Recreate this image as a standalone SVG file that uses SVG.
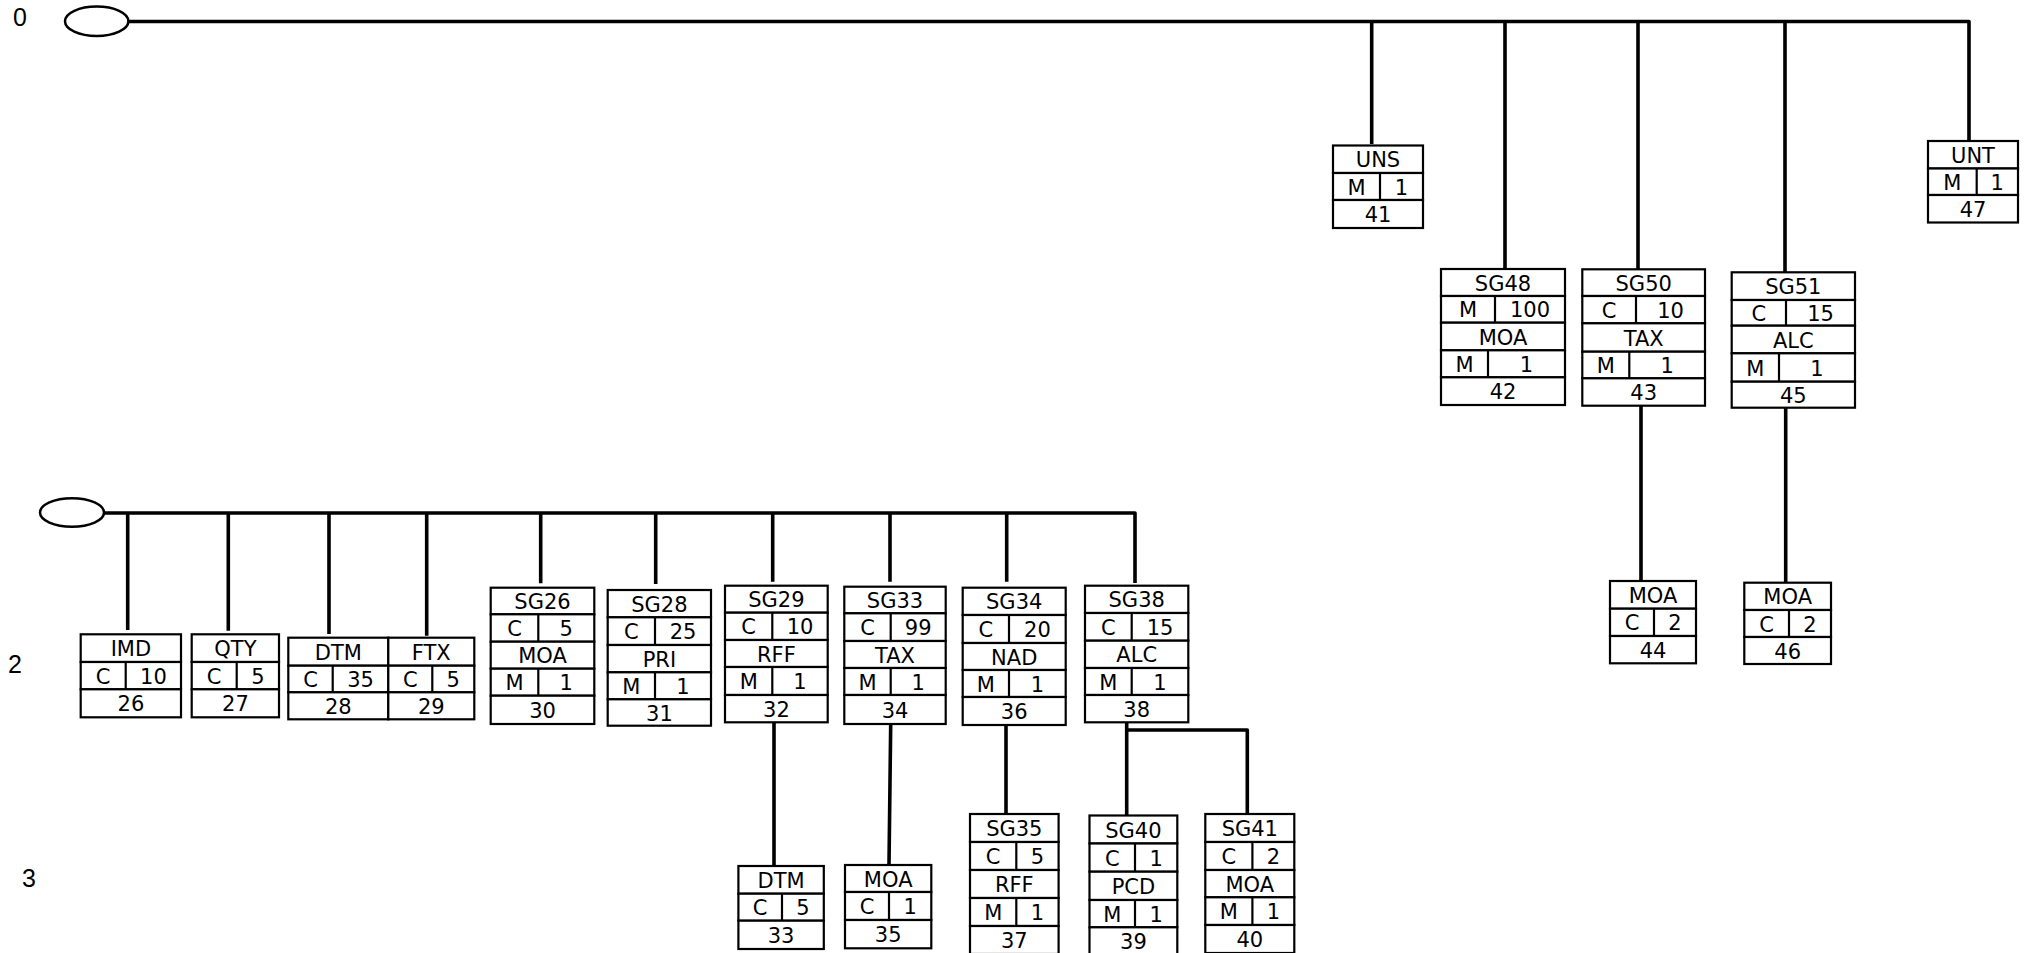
<svg xmlns="http://www.w3.org/2000/svg" width="2033" height="953" viewBox="0 0 2033 953">
<style>
.b{fill:#fff;stroke:#000;stroke-width:2.2}
.d{stroke:#000;stroke-width:2.2}
.c{fill:none;stroke:#000;stroke-width:3.6;stroke-linejoin:round}
.t{font-family:"DejaVu Sans",Verdana,sans-serif;font-size:21px;text-anchor:middle;fill:#000}
.l{font-family:"Liberation Sans",Arial,sans-serif;font-size:25px;text-anchor:middle;fill:#000}
.e{fill:#fff;stroke:#000;stroke-width:2.5}
</style>
<rect width="2033" height="953" fill="#fff"/>
<g id="levels">
<text class="l" x="20" y="26">0</text>
<text class="l" x="15" y="673">2</text>
<text class="l" x="29" y="887">3</text>
</g>
<g id="connectors">
<path class="c" d="M128 21.5H1969V141"/>
<path class="c" d="M1371.7 21.5V144M1505 21.5V269M1638 21.5V269.3M1785 21.5V272.3"/>
<path class="c" d="M1641 405.7V581M1785.7 407.7V582.7"/>
<path class="c" d="M104 513H1135V583"/>
<path class="c" d="M127.7 513V630M228.3 513V630.7M329 513V634M426.7 513V635.7M540.7 513V583.3M655.7 513V584M772.7 513V581.7M890 513V581.7M1006.7 513V581.7"/>
<path class="c" d="M774 722.3V866M890.7 724L889 865M1006 725V814"/>
<path class="c" d="M1126.7 722.3V815.5M1126.7 730H1247.3V814"/>
<ellipse class="e" cx="96.7" cy="21.3" rx="31.7" ry="14.7"/>
<ellipse class="e" cx="72" cy="512.5" rx="32" ry="14.2"/>
</g>
<g id="UNS">
<rect class="b" x="1333" y="145.5" width="90" height="27.5"/><rect class="b" x="1333" y="173" width="90" height="27"/><rect class="b" x="1333" y="200" width="90" height="28"/>
<line class="d" x1="1380" y1="173" x2="1380" y2="200"/>
<text class="t" x="1378" y="167.3">UNS</text><text class="t" x="1356.5" y="194.5">M</text><text class="t" x="1401.5" y="194.5">1</text><text class="t" x="1378" y="222">41</text>
</g>
<g id="UNT">
<rect class="b" x="1928" y="141" width="90" height="27.5"/><rect class="b" x="1928" y="168.5" width="90" height="26.5"/><rect class="b" x="1928" y="195" width="90" height="27.5"/>
<line class="d" x1="1976.7" y1="168.5" x2="1976.7" y2="195"/>
<text class="t" x="1973" y="162.8">UNT</text><text class="t" x="1952.3" y="189.8">M</text><text class="t" x="1997.3" y="189.8">1</text><text class="t" x="1973" y="216.8">47</text>
</g>
<g id="SG48">
<rect class="b" x="1441" y="269" width="124" height="27"/><rect class="b" x="1441" y="296" width="124" height="26.7"/><rect class="b" x="1441" y="322.7" width="124" height="27.6"/><rect class="b" x="1441" y="350.3" width="124" height="27"/><rect class="b" x="1441" y="377.3" width="124" height="27.7"/>
<line class="d" x1="1495" y1="296" x2="1495" y2="322.7"/><line class="d" x1="1488" y1="350.3" x2="1488" y2="377.3"/>
<text class="t" x="1503" y="290.5">SG48</text><text class="t" x="1468" y="317.4">M</text><text class="t" x="1530" y="317.4">100</text><text class="t" x="1503" y="344.5">MOA</text><text class="t" x="1464.5" y="371.8">M</text><text class="t" x="1526.5" y="371.8">1</text><text class="t" x="1503" y="399.2">42</text>
</g>
<g id="SG50">
<rect class="b" x="1582.3" y="269.3" width="122.7" height="26.7"/><rect class="b" x="1582.3" y="296" width="122.7" height="27.3"/><rect class="b" x="1582.3" y="323.3" width="122.7" height="28.4"/><rect class="b" x="1582.3" y="351.7" width="122.7" height="26.6"/><rect class="b" x="1582.3" y="378.3" width="122.7" height="27.4"/>
<line class="d" x1="1636" y1="296" x2="1636" y2="323.3"/><line class="d" x1="1629.3" y1="351.7" x2="1629.3" y2="378.3"/>
<text class="t" x="1643.7" y="290.7">SG50</text><text class="t" x="1609.2" y="317.7">C</text><text class="t" x="1670.5" y="317.7">10</text><text class="t" x="1643.7" y="345.5">TAX</text><text class="t" x="1605.8" y="373">M</text><text class="t" x="1667.2" y="373">1</text><text class="t" x="1643.7" y="400">43</text>
</g>
<g id="SG51">
<rect class="b" x="1731.7" y="272.3" width="123.3" height="27.7"/><rect class="b" x="1731.7" y="300" width="123.3" height="25.7"/><rect class="b" x="1731.7" y="325.7" width="123.3" height="27.6"/><rect class="b" x="1731.7" y="353.3" width="123.3" height="28.4"/><rect class="b" x="1731.7" y="381.7" width="123.3" height="26"/>
<line class="d" x1="1786" y1="300" x2="1786" y2="325.7"/><line class="d" x1="1779" y1="353.3" x2="1779" y2="381.7"/>
<text class="t" x="1793.3" y="294.2">SG51</text><text class="t" x="1758.9" y="320.9">C</text><text class="t" x="1820.5" y="320.9">15</text><text class="t" x="1793.3" y="347.5">ALC</text><text class="t" x="1755.4" y="375.5">M</text><text class="t" x="1817" y="375.5">1</text><text class="t" x="1793.3" y="402.7">45</text>
</g>
<g id="MOA44">
<rect class="b" x="1610" y="581" width="86" height="27.7"/><rect class="b" x="1610" y="608.7" width="86" height="27.3"/><rect class="b" x="1610" y="636" width="86" height="27.3"/>
<line class="d" x1="1654" y1="608.7" x2="1654" y2="636"/>
<text class="t" x="1653" y="602.9">MOA</text><text class="t" x="1632" y="630.4">C</text><text class="t" x="1675" y="630.4">2</text><text class="t" x="1653" y="657.7">44</text>
</g>
<g id="MOA46">
<rect class="b" x="1744.3" y="582.7" width="86.7" height="27.3"/><rect class="b" x="1744.3" y="610" width="86.7" height="27"/><rect class="b" x="1744.3" y="637" width="86.7" height="27"/>
<line class="d" x1="1789" y1="610" x2="1789" y2="637"/>
<text class="t" x="1787.7" y="604.4">MOA</text><text class="t" x="1766.7" y="631.5">C</text><text class="t" x="1810" y="631.5">2</text><text class="t" x="1787.7" y="658.5">46</text>
</g>
<g id="IMD">
<rect class="b" x="80.7" y="634.3" width="100.3" height="27.7"/><rect class="b" x="80.7" y="662" width="100.3" height="27.3"/><rect class="b" x="80.7" y="689.3" width="100.3" height="28"/>
<line class="d" x1="125.7" y1="662" x2="125.7" y2="689.3"/>
<text class="t" x="130.9" y="656.2">IMD</text><text class="t" x="103.2" y="683.7">C</text><text class="t" x="153.4" y="683.7">10</text><text class="t" x="130.9" y="711.3">26</text>
</g>
<g id="QTY">
<rect class="b" x="191.7" y="634.3" width="87.3" height="27.7"/><rect class="b" x="191.7" y="662" width="87.3" height="27.3"/><rect class="b" x="191.7" y="689.3" width="87.3" height="28"/>
<line class="d" x1="236.7" y1="662" x2="236.7" y2="689.3"/>
<text class="t" x="235.4" y="656.2">QTY</text><text class="t" x="214.2" y="683.7">C</text><text class="t" x="257.9" y="683.7">5</text><text class="t" x="235.4" y="711.3">27</text>
</g>
<g id="DTM28">
<rect class="b" x="288.3" y="637.7" width="100" height="28"/><rect class="b" x="288.3" y="665.7" width="100" height="26.6"/><rect class="b" x="288.3" y="692.3" width="100" height="27"/>
<line class="d" x1="332.7" y1="665.7" x2="332.7" y2="692.3"/>
<text class="t" x="338.3" y="659.7">DTM</text><text class="t" x="310.5" y="687">C</text><text class="t" x="360.5" y="687">35</text><text class="t" x="338.3" y="713.8">28</text>
</g>
<g id="FTX">
<rect class="b" x="388.3" y="637.7" width="86" height="28"/><rect class="b" x="388.3" y="665.7" width="86" height="26.6"/><rect class="b" x="388.3" y="692.3" width="86" height="27"/>
<line class="d" x1="432.3" y1="665.7" x2="432.3" y2="692.3"/>
<text class="t" x="431.3" y="659.7">FTX</text><text class="t" x="410.3" y="687">C</text><text class="t" x="453.3" y="687">5</text><text class="t" x="431.3" y="713.8">29</text>
</g>
<g id="SG26">
<rect class="b" x="490.7" y="587.7" width="103.6" height="26.6"/><rect class="b" x="490.7" y="614.3" width="103.6" height="27.4"/><rect class="b" x="490.7" y="641.7" width="103.6" height="27"/><rect class="b" x="490.7" y="668.7" width="103.6" height="27"/><rect class="b" x="490.7" y="695.7" width="103.6" height="28.3"/>
<line class="d" x1="538.3" y1="614.3" x2="538.3" y2="641.7"/><line class="d" x1="538.3" y1="668.7" x2="538.3" y2="695.7"/>
<text class="t" x="542.5" y="609">SG26</text><text class="t" x="514.5" y="636">C</text><text class="t" x="566.3" y="636">5</text><text class="t" x="542.5" y="663.2">MOA</text><text class="t" x="514.5" y="690.2">M</text><text class="t" x="566.3" y="690.2">1</text><text class="t" x="542.5" y="717.9">30</text>
</g>
<g id="SG28">
<rect class="b" x="607.7" y="590" width="103.3" height="27.3"/><rect class="b" x="607.7" y="617.3" width="103.3" height="27.7"/><rect class="b" x="607.7" y="645" width="103.3" height="27.3"/><rect class="b" x="607.7" y="672.3" width="103.3" height="27"/><rect class="b" x="607.7" y="699.3" width="103.3" height="26.4"/>
<line class="d" x1="655" y1="617.3" x2="655" y2="645"/><line class="d" x1="655" y1="672.3" x2="655" y2="699.3"/>
<text class="t" x="659.4" y="611.7">SG28</text><text class="t" x="631.4" y="639.2">C</text><text class="t" x="683" y="639.2">25</text><text class="t" x="659.4" y="666.7">PRI</text><text class="t" x="631.4" y="693.8">M</text><text class="t" x="683" y="693.8">1</text><text class="t" x="659.4" y="720.5">31</text>
</g>
<g id="SG29">
<rect class="b" x="725" y="585.7" width="102.7" height="27"/><rect class="b" x="725" y="612.7" width="102.7" height="27.3"/><rect class="b" x="725" y="640" width="102.7" height="27"/><rect class="b" x="725" y="667" width="102.7" height="28"/><rect class="b" x="725" y="695" width="102.7" height="27.3"/>
<line class="d" x1="772.3" y1="612.7" x2="772.3" y2="640"/><line class="d" x1="772.3" y1="667" x2="772.3" y2="695"/>
<text class="t" x="776.4" y="607.2">SG29</text><text class="t" x="748.7" y="634.4">C</text><text class="t" x="800" y="634.4">10</text><text class="t" x="776.4" y="661.5">RFF</text><text class="t" x="748.7" y="689">M</text><text class="t" x="800" y="689">1</text><text class="t" x="776.4" y="716.7">32</text>
</g>
<g id="SG33">
<rect class="b" x="844.3" y="586.7" width="101.4" height="26.6"/><rect class="b" x="844.3" y="613.3" width="101.4" height="27.7"/><rect class="b" x="844.3" y="641" width="101.4" height="27"/><rect class="b" x="844.3" y="668" width="101.4" height="27"/><rect class="b" x="844.3" y="695" width="101.4" height="29"/>
<line class="d" x1="890.7" y1="613.3" x2="890.7" y2="641"/><line class="d" x1="890.7" y1="668" x2="890.7" y2="695"/>
<text class="t" x="895" y="608">SG33</text><text class="t" x="867.5" y="635.2">C</text><text class="t" x="918.2" y="635.2">99</text><text class="t" x="895" y="662.5">TAX</text><text class="t" x="867.5" y="689.5">M</text><text class="t" x="918.2" y="689.5">1</text><text class="t" x="895" y="717.5">34</text>
</g>
<g id="SG34">
<rect class="b" x="962.7" y="587.7" width="103" height="27.3"/><rect class="b" x="962.7" y="615" width="103" height="28"/><rect class="b" x="962.7" y="643" width="103" height="27"/><rect class="b" x="962.7" y="670" width="103" height="27"/><rect class="b" x="962.7" y="697" width="103" height="28"/>
<line class="d" x1="1009" y1="615" x2="1009" y2="643"/><line class="d" x1="1009" y1="670" x2="1009" y2="697"/>
<text class="t" x="1014.2" y="609.4">SG34</text><text class="t" x="985.9" y="637">C</text><text class="t" x="1037.4" y="637">20</text><text class="t" x="1014.2" y="664.5">NAD</text><text class="t" x="985.9" y="691.5">M</text><text class="t" x="1037.4" y="691.5">1</text><text class="t" x="1014.2" y="719">36</text>
</g>
<g id="SG38">
<rect class="b" x="1085" y="585.7" width="103.3" height="27.3"/><rect class="b" x="1085" y="613" width="103.3" height="27.7"/><rect class="b" x="1085" y="640.7" width="103.3" height="27.3"/><rect class="b" x="1085" y="668" width="103.3" height="27"/><rect class="b" x="1085" y="695" width="103.3" height="27.3"/>
<line class="d" x1="1131.7" y1="613" x2="1131.7" y2="640.7"/><line class="d" x1="1131.7" y1="668" x2="1131.7" y2="695"/>
<text class="t" x="1136.7" y="607.4">SG38</text><text class="t" x="1108.4" y="634.9">C</text><text class="t" x="1160" y="634.9">15</text><text class="t" x="1136.7" y="662.4">ALC</text><text class="t" x="1108.4" y="689.5">M</text><text class="t" x="1160" y="689.5">1</text><text class="t" x="1136.7" y="716.7">38</text>
</g>
<g id="DTM33">
<rect class="b" x="738.4" y="866" width="85.4" height="27.7"/><rect class="b" x="738.4" y="893.7" width="85.4" height="27"/><rect class="b" x="738.4" y="920.7" width="85.4" height="28.3"/>
<line class="d" x1="782" y1="893.7" x2="782" y2="920.7"/>
<text class="t" x="781.1" y="887.9">DTM</text><text class="t" x="760.2" y="915.2">C</text><text class="t" x="802.9" y="915.2">5</text><text class="t" x="781.1" y="942.9">33</text>
</g>
<g id="MOA35">
<rect class="b" x="845" y="865" width="86.3" height="27"/><rect class="b" x="845" y="892" width="86.3" height="28"/><rect class="b" x="845" y="920" width="86.3" height="28.3"/>
<line class="d" x1="889" y1="892" x2="889" y2="920"/>
<text class="t" x="888.2" y="886.5">MOA</text><text class="t" x="867" y="914">C</text><text class="t" x="910.2" y="914">1</text><text class="t" x="888.2" y="942.2">35</text>
</g>
<g id="SG35">
<rect class="b" x="970" y="814" width="88.6" height="28"/><rect class="b" x="970" y="842" width="88.6" height="28"/><rect class="b" x="970" y="870" width="88.6" height="28"/><rect class="b" x="970" y="898" width="88.6" height="28"/><rect class="b" x="970" y="926" width="88.6" height="28"/>
<line class="d" x1="1016.3" y1="842" x2="1016.3" y2="870"/><line class="d" x1="1016.3" y1="898" x2="1016.3" y2="926"/>
<text class="t" x="1014.3" y="836">SG35</text><text class="t" x="993.2" y="864">C</text><text class="t" x="1037.5" y="864">5</text><text class="t" x="1014.3" y="892">RFF</text><text class="t" x="993.2" y="920">M</text><text class="t" x="1037.5" y="920">1</text><text class="t" x="1014.3" y="948">37</text>
</g>
<g id="SG40">
<rect class="b" x="1089.5" y="815.5" width="87.8" height="28"/><rect class="b" x="1089.5" y="843.5" width="87.8" height="28.2"/><rect class="b" x="1089.5" y="871.7" width="87.8" height="28.3"/><rect class="b" x="1089.5" y="900" width="87.8" height="27.3"/><rect class="b" x="1089.5" y="927.3" width="87.8" height="27.7"/>
<line class="d" x1="1135" y1="843.5" x2="1135" y2="871.7"/><line class="d" x1="1135" y1="900" x2="1135" y2="927.3"/>
<text class="t" x="1133.4" y="837.5">SG40</text><text class="t" x="1112.3" y="865.6">C</text><text class="t" x="1156.2" y="865.6">1</text><text class="t" x="1133.4" y="893.9">PCD</text><text class="t" x="1112.3" y="921.7">M</text><text class="t" x="1156.2" y="921.7">1</text><text class="t" x="1133.4" y="949.2">39</text>
</g>
<g id="SG41">
<rect class="b" x="1205.3" y="814" width="89" height="28"/><rect class="b" x="1205.3" y="842" width="89" height="28"/><rect class="b" x="1205.3" y="870" width="89" height="27.3"/><rect class="b" x="1205.3" y="897.3" width="89" height="27.7"/><rect class="b" x="1205.3" y="925" width="89" height="28"/>
<line class="d" x1="1252.4" y1="842" x2="1252.4" y2="870"/><line class="d" x1="1252.4" y1="897.3" x2="1252.4" y2="925"/>
<text class="t" x="1249.8" y="836">SG41</text><text class="t" x="1228.9" y="864">C</text><text class="t" x="1273.4" y="864">2</text><text class="t" x="1249.8" y="891.7">MOA</text><text class="t" x="1228.9" y="919.2">M</text><text class="t" x="1273.4" y="919.2">1</text><text class="t" x="1249.8" y="947">40</text>
</g>
</svg>
